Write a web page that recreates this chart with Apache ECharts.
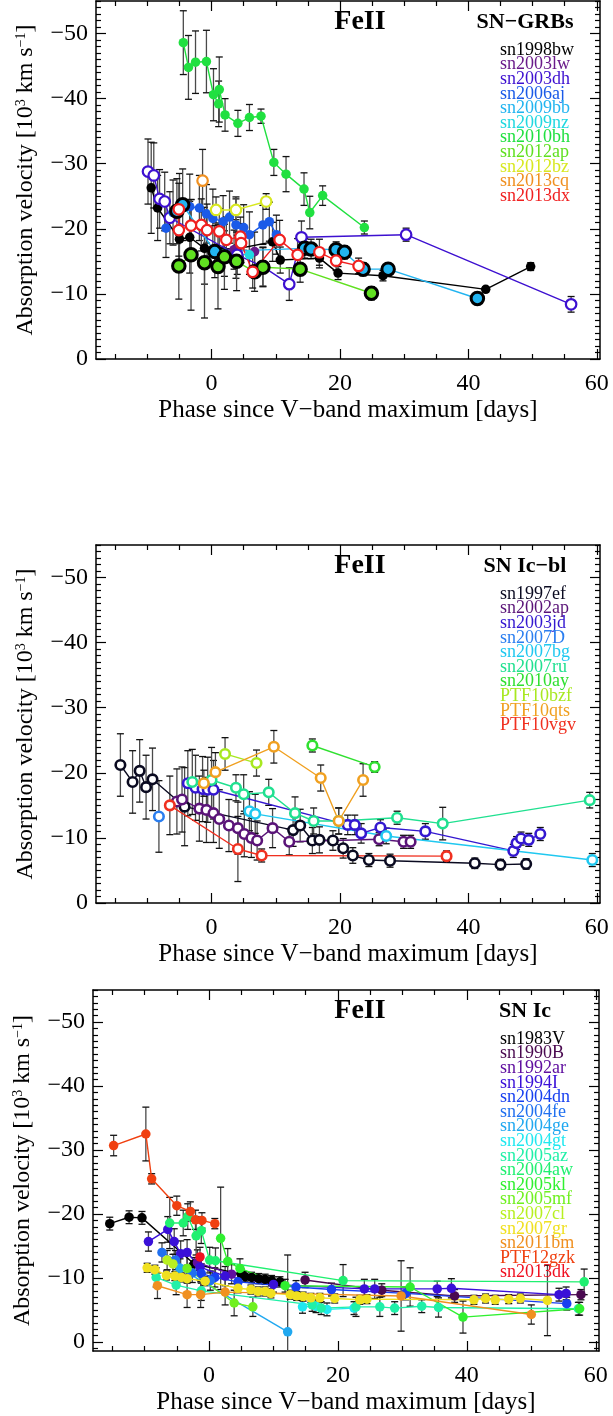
<!DOCTYPE html>
<html>
<head>
<meta charset="utf-8">
<script src="https://cdn.jsdelivr.net/npm/echarts@6/dist/echarts.min.js"></script>
<style>
html,body{margin:0;padding:0;background:#fff;}
#chart{width:613px;height:1416px;}
</style>
</head>
<body>
<div id="chart"></div>
<script>
// ---- tick layout ----
const xMajorTicks = [0, 20, 40, 60];
const xMinorTicks = [-15, -10, -5, 5, 10, 15, 25, 30, 35, 45, 50, 55];
const yMajorTicks = [-50, -40, -30, -20, -10, 0];

// ---- SN-GRBs: [phase (d), velocity (10^3 km/s), error] ----
const sn1998bw = [[-9.4,-26.3,7.0],[-8.4,-23.2,5.0],[-5.0,-18.4,5.0],[-3.4,-18.7,5.5],[-1.1,-17.0,5.5],[3.8,-16.9,4.5],[9.5,-18.0,3.0],[10.7,-15.2,2.0],[16.8,-15.5,1.5],[19.7,-13.2,1.0],[26.7,-12.8,0.8],[42.7,-10.7,0.4],[49.7,-14.2,0.6]];
const sn2003lw = [[3.5,-16.8,3.0],[6.7,-16.5,3.0]];
const sn2003dh = [[-9.9,-28.8,5.0],[-9.0,-28.2,5.0],[-8.1,-24.6,4.5],[-7.3,-24.2,4.5],[-6.5,-21.7,4.0],[4.0,-16.0,3.0],[8.0,-14.2,3.0],[12.1,-11.5,2.5],[14.0,-18.7,2.5],[30.3,-19.1,1.0],[56.0,-8.4,1.2]];
const sn2006aj = [[-7.1,-20.1,4.5],[-6.0,-22.5,5.0],[-5.0,-23.5,5.0],[-3.4,-23.4,5.0],[-1.9,-23.2,5.0],[-0.8,-22.3,4.5],[0.2,-21.6,4.5],[1.8,-21.1,4.0],[2.8,-21.8,4.0],[3.8,-20.6,4.0],[5.0,-20.2,3.5],[5.9,-19.1,3.5],[8.0,-20.6,3.0],[9.0,-21.1,3.0],[10.1,-19.1,3.0]];
const sn2009bb = [[-5.4,-22.7,5.0],[-4.5,-23.7,5.5],[0.5,-16.5,4.0],[14.5,-17.0,1.5],[15.5,-16.9,1.5],[19.4,-16.8,1.2],[20.7,-16.4,1.0],[23.6,-13.8,1.0],[27.5,-13.8,0.8],[41.4,-9.3,0.6]];
const sn2009nz = [[2.0,-16.2,3.5],[5.9,-16.0,3.0]];
const sn2010bh = [[-4.4,-48.6,4.9],[-3.6,-44.8,4.9],[-2.5,-45.6,4.8],[-0.8,-45.7,4.8],[0.3,-40.6,4.0],[1.1,-39.2,3.5],[1.2,-41.4,5.0],[2.1,-37.5,2.5],[4.1,-36.2,2.0],[5.9,-37.1,2.0],[7.7,-37.3,1.1],[9.7,-30.2,2.0],[11.6,-28.4,2.7],[14.4,-26.1,2.5],[15.3,-22.5,2.5],[17.3,-25.1,1.5],[23.8,-20.2,1.0]];
const sn2012ap = [[-5.1,-14.3,5.1],[-3.2,-16.0,8.5],[-1.1,-14.8,8.5],[1.0,-14.2,6.5],[2.0,-15.7,5.0],[3.9,-15.0,4.5],[6.7,-13.4,3.0],[8.0,-14.1,3.0],[13.8,-13.8,2.0],[24.9,-10.1,1.0]];
const sn2012bz = [[0.7,-22.9,2.0],[3.8,-22.9,2.0],[8.5,-24.2,1.2]];
const sn2013cq = [[-1.4,-27.4,4.8]];
const sn2013dx = [[-5.1,-23.0,4.0],[-5.1,-19.8,4.0],[-3.2,-20.5,4.0],[-1.6,-20.6,4.0],[-0.7,-19.8,4.0],[1.2,-19.6,3.5],[2.3,-18.3,3.5],[4.5,-18.8,3.0],[4.6,-17.8,3.0],[6.4,-13.4,2.5],[10.6,-18.3,3.0],[13.4,-16.0,2.5],[16.8,-16.4,2.0],[19.4,-15.1,1.5],[22.9,-14.3,1.2]];

const grbNames  = ['sn1998bw','sn2003lw','sn2003dh','sn2006aj','sn2009bb','sn2009nz','sn2010bh','sn2012ap','sn2012bz','sn2013cq','sn2013dx'];
const grbColors = ['#000000','#6a1b8a','#3d10d0','#1a5ae8','#22b4f0','#20d8e0','#20e040','#60e020','#d8e820','#f09020','#f02020'];
const grbStyles = ['filled','filled','open','filled','ring','filled','filled','ring','open','open','open'];
const grbData   = [sn1998bw, sn2003lw, sn2003dh, sn2006aj, sn2009bb, sn2009nz, sn2010bh, sn2012ap, sn2012bz, sn2013cq, sn2013dx];

// ---- SN Ic-bl ----
const sn1997ef = [[-14.2,-21.2,4.8],[-12.3,-18.6,4.8],[-11.2,-20.3,4.8],[-10.2,-17.8,4.9],[-9.2,-19.0,4.8],[-4.2,-14.8,6.0],[12.7,-11.2,2.5],[13.8,-11.9,2.5],[15.7,-9.6,2.0],[16.8,-9.7,2.0],[18.9,-9.6,1.5],[20.5,-8.4,1.5],[22.0,-7.3,1.2],[24.5,-6.6,1.0],[27.8,-6.5,1.0],[41.0,-6.1,0.8],[45.0,-5.9,0.8],[49.0,-6.0,0.8]];
const sn2002ap = [[-5.4,-15.6,5.0],[-4.6,-15.9,5.0],[-1.9,-14.5,5.0],[-0.8,-14.3,5.0],[0.3,-13.8,4.5],[1.2,-12.9,4.5],[2.7,-11.9,4.0],[4.1,-11.5,4.0],[5.1,-10.6,3.5],[6.2,-10.0,3.0],[7.1,-9.6,3.0],[9.5,-11.5,3.0],[12.1,-9.4,2.0],[26.1,-9.8,1.0],[29.9,-9.4,1.0],[31.0,-9.4,1.0]];
const sn2003jd = [[-3.7,-18.4,5.0],[-2.5,-17.7,5.0],[-1.4,-17.5,5.0],[-0.6,-17.4,5.0],[0.3,-17.4,4.5],[21.2,-12.0,1.5],[22.3,-12.0,1.5],[23.3,-10.7,1.5],[26.3,-11.6,1.2],[33.3,-11.0,1.2],[47.0,-8.0,1.0],[47.5,-9.2,1.0],[48.2,-9.9,1.0],[49.4,-9.7,1.0],[51.2,-10.6,1.0]];
const sn2007D  = [[-8.2,-13.3,5.5]];
const sn2007bg = [[5.9,-14.1,3.0],[6.8,-13.7,3.0],[27.2,-10.3,1.2],[59.3,-6.6,1.0]];
const sn2007ru = [[-3.0,-18.6,5.0],[0.0,-18.9,5.0],[3.8,-17.7,2.0],[5.0,-16.7,3.0],[8.9,-17.0,2.0],[13.0,-13.8,2.5],[15.9,-12.6,2.0],[19.8,-12.6,2.0],[28.9,-13.1,1.0],[36.0,-12.2,2.5],[58.9,-15.8,1.2]];
const sn2010ay = [[15.7,-24.2,1.0],[25.4,-20.9,0.8]];
const PTF10bzf = [[2.1,-22.9,2.5],[7.0,-21.5,2.0]];
const PTF10qts = [[-1.2,-18.4,2.0],[0.6,-20.1,3.0],[9.7,-24.0,2.5],[17.0,-19.2,2.0],[19.8,-12.6,2.0],[23.6,-18.9,2.5]];
const PTF10vgv = [[-6.5,-15.0,4.5],[4.1,-8.3,5.0],[7.8,-7.3,1.0],[36.6,-7.2,0.8]];

const iclNames  = ['sn1997ef','sn2002ap','sn2003jd','sn2007D','sn2007bg','sn2007ru','sn2010ay','PTF10bzf','PTF10qts','PTF10vgv'];
const iclColors = ['#0a0a20','#5a1478','#3418d0','#2a7ef0','#20c8f0','#20e090','#30e030','#a8e820','#f0a020','#f03020'];
const iclData   = [sn1997ef, sn2002ap, sn2003jd, sn2007D, sn2007bg, sn2007ru, sn2010ay, PTF10bzf, PTF10qts, PTF10vgv];

// ---- SN Ic ----
const sn1983V  = [[-15.4,-18.5,1.0],[-12.4,-19.5,1.0],[-10.4,-19.4,1.0],[-2.3,-12.2,1.0],[5.0,-10.6,0.8],[5.6,-10.2,0.8],[6.6,-10.1,0.8],[7.7,-9.9,0.8],[8.7,-9.8,0.8],[9.7,-9.6,0.8],[11.0,-9.4,0.8]];
const sn1990B  = [[14.9,-9.7,1.2],[26.8,-8.1,1.0],[38.1,-7.2,1.0],[57.7,-7.4,0.8]];
const sn1992ar = [[-1.8,-12.4,2.0],[3.5,-10.6,1.5]];
const sn1994I  = [[-9.4,-15.7,1.5],[-6.4,-17.6,2.0],[-5.4,-15.7,2.0],[-4.4,-13.8,2.0],[-3.4,-14.0,2.0],[-1.4,-11.7,2.0],[2.5,-10.3,1.5],[10.0,-9.0,1.2],[24.1,-8.3,1.5],[25.7,-8.3,1.5],[35.4,-8.3,1.2],[37.6,-8.4,1.5],[54.3,-7.4,1.0],[55.4,-7.6,1.0]];
const sn2004dn = [[-1.2,-10.7,1.5],[0.9,-10.1,1.5],[4.5,-9.4,1.2],[13.5,-8.6,1.0],[19.0,-8.2,1.0],[30.5,-7.6,1.0],[55.5,-6.0,1.0]];
const sn2004fe = [[-7.3,-14.0,1.5],[-5.2,-12.8,1.5],[-2.6,-10.8,1.5],[0.2,-9.6,1.5]];
const sn2004ge = [[-4.5,-11.5,1.5],[12.2,-1.6,12.0]];
const sn2004gt = [[14.5,-5.5,1.0],[16.6,-5.6,1.0],[18.3,-5.1,1.0],[22.5,-5.3,1.0]];
const sn2005az = [[-8.2,-10.1,1.5],[-5.1,-8.9,1.5],[-1.2,-8.0,1.5],[16.0,-5.8,1.0],[17.4,-5.3,1.0],[22.8,-5.5,1.5],[26.5,-5.5,1.5],[28.8,-5.3,1.0],[33.0,-5.6,1.0],[35.6,-5.4,1.5],[57.3,-5.2,1.0]];
const sn2004aw = [[-6.1,-18.6,4.0],[-4.0,-18.6,2.0],[-3.3,-19.6,2.0],[-2.0,-16.6,3.0],[-1.2,-17.4,2.0],[0.1,-12.8,2.0],[1.0,-12.7,2.0],[20.8,-9.6,2.5],[58.2,-9.4,2.0]];
const sn2005kl = [[1.8,-16.2,8.0],[2.9,-12.6,2.0],[4.8,-11.5,1.5],[11.8,-8.8,1.0],[31.2,-8.6,3.0],[39.4,-3.9,2.5],[57.5,-5.2,1.0]];
const sn2005mf = [[-3.4,-11.5,2.0],[3.9,-6.1,2.0],[6.8,-5.5,1.5]];
const sn2007cl = [[-6.5,-12.8,1.5],[-5.6,-12.2,1.5]];
const sn2007gr = [[-9.6,-11.6,0.7],[-8.4,-11.3,0.7],[-6.6,-10.4,0.7],[-5.3,-10.3,0.7],[-4.3,-10.1,0.7],[-3.4,-9.9,0.7],[-0.6,-9.5,0.7],[4.5,-8.4,0.7],[6.5,-8.2,0.7],[7.6,-7.9,0.7],[8.7,-7.9,0.7],[9.6,-7.6,0.7],[12.6,-7.4,0.7],[13.6,-7.2,0.7],[14.6,-7.1,0.7],[15.8,-6.9,0.7],[17.2,-6.9,0.7],[19.5,-6.8,0.7],[23.4,-6.6,0.7],[24.5,-6.7,0.7],[41.1,-6.6,0.7],[42.9,-6.8,0.7],[44.4,-6.6,0.7],[46.5,-6.7,0.7],[48.3,-6.8,0.7],[52.5,-6.5,5.5]];
const sn2011bm = [[-8.0,-8.8,2.0],[-3.4,-7.4,2.0],[-1.3,-7.4,2.0],[2.5,-7.8,2.0],[29.8,-7.2,5.5],[50.0,-4.3,1.5]];
const PTF12gzk = [[-14.8,-30.7,1.6],[-9.8,-32.5,4.2],[-8.9,-25.5,0.8],[-5.0,-21.3,1.5],[-2.9,-20.4,1.5],[-2.1,-19.1,1.5],[-1.1,-19.0,1.2],[0.9,-18.5,0.8]];
const sn2013dk = [[-1.4,-13.3,1.5]];

const icNames  = ['sn1983V','sn1990B','sn1992ar','sn1994I','sn2004dn','sn2004fe','sn2004ge','sn2004gt','sn2005az','sn2004aw','sn2005kl','sn2005mf','sn2007cl','sn2007gr','sn2011bm','PTF12gzk','sn2013dk'];
const icColors = ['#000000','#4a0a50','#6010a0','#3a10d8','#1840f0','#2070f0','#20a8f0','#20e8f0','#20f0a8','#20f070','#30f030','#70f020','#b8f020','#f0e020','#f09020','#f04010','#f01020'];
const icData   = [sn1983V, sn1990B, sn1992ar, sn1994I, sn2004dn, sn2004fe, sn2004ge, sn2004gt, sn2005az, sn2004aw, sn2005kl, sn2005mf, sn2007cl, sn2007gr, sn2011bm, PTF12gzk, sn2013dk];

// ---- layout ----
const FONT = "'Liberation Serif','Times New Roman',serif";
const panels = [
  { grid: {left: 96, top: 1,   width: 504, height: 358}, yMax: 0,   group: 'SN\u2212GRBs',  names: grbNames, colors: grbColors, data: grbData, styles: grbStyles },
  { grid: {left: 96, top: 545, width: 504, height: 358}, yMax: 0,   group: 'SN Ic\u2212bl', names: iclNames, colors: iclColors, data: iclData, styles: iclNames.map(() => 'open') },
  { grid: {left: 93, top: 990, width: 506, height: 369}, yMax: 1.4, group: 'SN Ic',        names: icNames,  colors: icColors,  data: icData,  styles: icNames.map(() => 'filled') }
];

function range(a, b) { const r = []; for (let v = a; v <= b; v++) r.push(v); return r; }

const xAxes = [], yAxes = [], grids = [], series = [], graphics = [];
const lineCol = '#000';

panels.forEach((p, gi) => {
  grids.push(p.grid);
  const yMinor = range(-55, Math.floor(p.yMax)).filter(v => v % 10 !== 0);
  const xBase = {gridIndex: gi, type: 'value', min: -18, max: 60.5, splitLine: {show: false}};
  const yBase = {gridIndex: gi, type: 'value', min: -55, max: p.yMax, inverse: true, splitLine: {show: false}};
  const hiddenLabel = {show: false};
  // bottom / top x axes (major + minor ticks)
  xAxes.push(Object.assign({}, xBase, {
    position: 'bottom',
    axisLine: {show: true, onZero: false, lineStyle: {color: lineCol, width: 1.5}},
    axisTick: {show: true, inside: true, length: 10, customValues: xMajorTicks, lineStyle: {color: lineCol, width: 1.2}},
    axisLabel: {show: true, customValues: xMajorTicks, margin: 13, fontSize: 24, fontFamily: FONT, color: '#000'},
    name: 'Phase since V\u2212band maximum [days]', nameLocation: 'middle', nameGap: 39,
    nameTextStyle: {fontSize: 25, fontFamily: FONT, color: '#000'}
  }));
  xAxes.push(Object.assign({}, xBase, {
    position: 'bottom', axisLine: {show: false, onZero: false},
    axisTick: {show: true, inside: true, length: 5, customValues: xMinorTicks, lineStyle: {color: lineCol, width: 1.2}},
    axisLabel: hiddenLabel
  }));
  xAxes.push(Object.assign({}, xBase, {
    position: 'top',
    axisLine: {show: true, onZero: false, lineStyle: {color: lineCol, width: 1.5}},
    axisTick: {show: true, inside: true, length: 10, customValues: xMajorTicks, lineStyle: {color: lineCol, width: 1.2}},
    axisLabel: hiddenLabel
  }));
  xAxes.push(Object.assign({}, xBase, {
    position: 'top', axisLine: {show: false, onZero: false},
    axisTick: {show: true, inside: true, length: 5, customValues: xMinorTicks, lineStyle: {color: lineCol, width: 1.2}},
    axisLabel: hiddenLabel
  }));
  // left / right y axes (major + minor ticks)
  yAxes.push(Object.assign({}, yBase, {
    position: 'left',
    axisLine: {show: true, onZero: false, lineStyle: {color: lineCol, width: 1.5}},
    axisTick: {show: true, inside: true, length: 10, customValues: yMajorTicks, lineStyle: {color: lineCol, width: 1.2}},
    axisLabel: {show: true, customValues: yMajorTicks, margin: 8, fontSize: 24, fontFamily: FONT, color: '#000',
      formatter: v => (v < 0 ? '\u2212' + Math.abs(v) : String(v))},
    name: 'Absorption velocity [10{sup|3} km s{sup|\u22121}]', nameLocation: 'middle', nameGap: 58,
    nameTextStyle: {fontSize: 24, fontFamily: FONT, color: '#000',
      rich: {sup: {fontSize: 14, fontFamily: FONT, color: '#000', verticalAlign: 'top'}}}
  }));
  yAxes.push(Object.assign({}, yBase, {
    position: 'left', axisLine: {show: false, onZero: false},
    axisTick: {show: true, inside: true, length: 5, customValues: yMinor, lineStyle: {color: lineCol, width: 1.2}},
    axisLabel: hiddenLabel
  }));
  yAxes.push(Object.assign({}, yBase, {
    position: 'right',
    axisLine: {show: true, onZero: false, lineStyle: {color: lineCol, width: 1.5}},
    axisTick: {show: true, inside: true, length: 10, customValues: yMajorTicks, lineStyle: {color: lineCol, width: 1.2}},
    axisLabel: hiddenLabel
  }));
  yAxes.push(Object.assign({}, yBase, {
    position: 'right', axisLine: {show: false, onZero: false},
    axisTick: {show: true, inside: true, length: 5, customValues: yMinor, lineStyle: {color: lineCol, width: 1.2}},
    axisLabel: hiddenLabel
  }));

  // one supernova at a time: connecting line + markers, then its error bars
  p.data.forEach((pts, k) => {
    const color = p.colors[k];
    const style = p.styles[k];
    const sorted = pts.slice().sort((a, b) => a[0] - b[0]);
    const xy = sorted.map(d => [d[0], d[1]]);
    const axes = {xAxisIndex: gi * 4, yAxisIndex: gi * 4};
    let item, size;
    if (style === 'filled') { item = {color: color, borderWidth: 0}; size = 9.5; }
    else if (style === 'open') { item = {color: '#fff', borderColor: color, borderWidth: gi === 1 ? 2.6 : 2.2}; size = gi === 1 ? 9.5 : 10.5; }
    else { item = {color: color, borderColor: '#000', borderWidth: 3}; size = 12.5; }
    series.push(Object.assign({
      type: 'line', name: p.names[k], data: xy, symbol: 'circle', symbolSize: size, showSymbol: true,
      lineStyle: {color: color, width: 1.4}, itemStyle: item, emphasis: {disabled: true}, silent: true, animation: false
    }, axes));
    if (style === 'ring') {
      // pale centre inside the outlined markers
      series.push(Object.assign({
        type: 'scatter', data: xy, symbol: 'circle', symbolSize: 4,
        itemStyle: {color: '#e8fbff', borderWidth: 0},
        emphasis: {disabled: true}, silent: true, animation: false
      }, axes));
    }
    series.push(Object.assign({
      type: 'custom', data: sorted, clip: true, silent: true, animation: false,
      encode: {x: 0, y: 1},
      renderItem: (params, api) => {
        const x = api.value(0), y = api.value(1), e = api.value(2);
        const a = api.coord([x, y - e]), b = api.coord([x, y + e]);
        const w = 3.5;
        return {type: 'group', children: [
          {type: 'line', shape: {x1: a[0], y1: a[1], x2: b[0], y2: b[1]}, style: {stroke: '#4a4a4a', lineWidth: 1.3}},
          {type: 'line', shape: {x1: a[0] - w, y1: a[1], x2: a[0] + w, y2: a[1]}, style: {stroke: '#111', lineWidth: 1.3}},
          {type: 'line', shape: {x1: b[0] - w, y1: b[1], x2: b[0] + w, y2: b[1]}, style: {stroke: '#111', lineWidth: 1.3}}
        ]};
      }
    }, axes));
  });

  // panel headers and colour-coded name list
  const top = p.grid.top;
  graphics.push({type: 'text', x: 360, y: top + 21, z: 100,
    style: {text: 'FeII', font: 'bold 28px ' + FONT, fill: '#000', align: 'center', verticalAlign: 'middle'}});
  graphics.push({type: 'text', x: 525, y: top + 21, z: 100,
    style: {text: p.group, font: 'bold 22px ' + FONT, fill: '#000', align: 'center', verticalAlign: 'middle'}});
  p.names.forEach((n, k) => {
    graphics.push({type: 'text', x: 500, y: top + 49 + k * 14.6, z: 100,
      style: {text: n, font: '18px ' + FONT, fill: p.colors[k], align: 'left', verticalAlign: 'middle'}});
  });
});

const chart = echarts.init(document.getElementById('chart'), null, {renderer: 'canvas'});
chart.setOption({
  animation: false,
  backgroundColor: '#fff',
  grid: grids,
  xAxis: xAxes,
  yAxis: yAxes,
  series: series,
  graphic: graphics
});
</script>
</body>
</html>
